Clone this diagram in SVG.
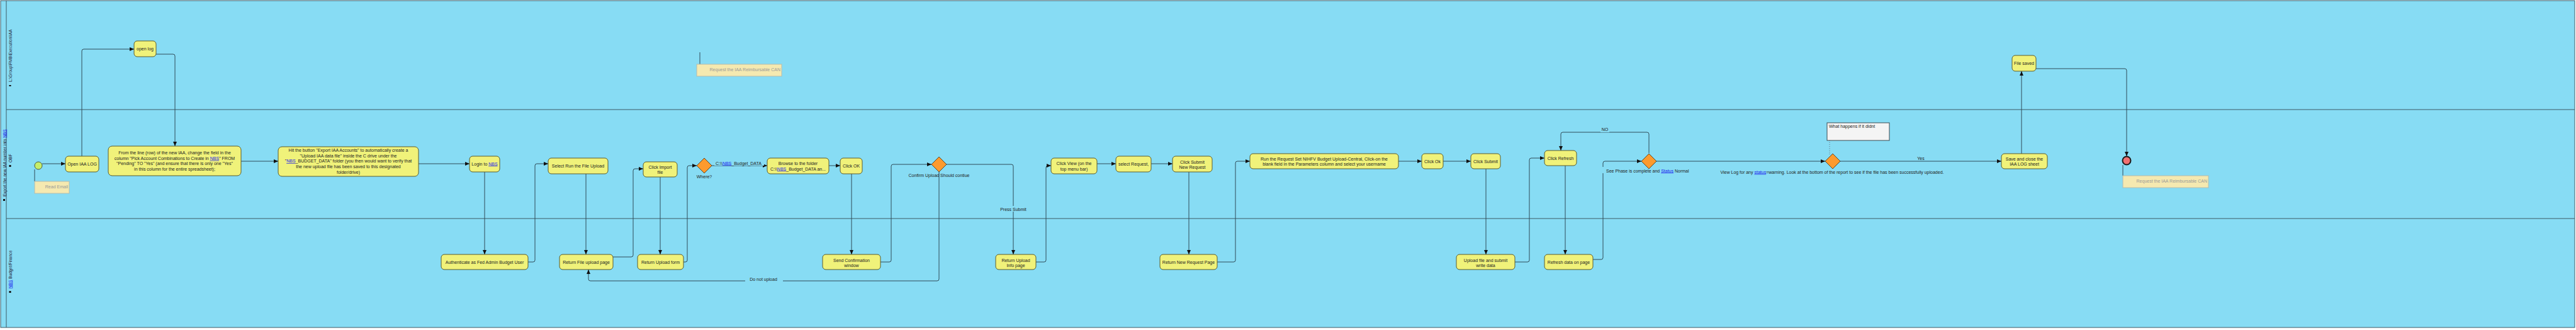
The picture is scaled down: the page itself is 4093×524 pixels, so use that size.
<svg xmlns="http://www.w3.org/2000/svg" width="4093" height="524" viewBox="0 0 4093 524">
<style>
.pool{fill:#87dcf4;stroke:#3d5a66;stroke-width:1}
.lane{stroke:#3d5a66;stroke-width:1}
.node rect{fill:#f0f27a;stroke:#5c5c2c;stroke-width:1}
.dia{fill:#fd9a2e;stroke:#5c4a2c;stroke-width:1}
.t{font-family:"Liberation Sans",Arial,sans-serif;font-size:7px;fill:#222}
.m{text-anchor:middle}
.lt{font-family:"Liberation Sans",Arial,sans-serif;font-size:6.5px;fill:#223}
.c{fill:none;stroke:#2f4b58;stroke-width:1}
.a{marker-end:url(#arr)}
.lnk{fill:#1a1aee;text-decoration:underline}
.bg{fill:#87dcf4}
.ann rect{fill:#f5e9b0;stroke:#b4bcae;stroke-width:1}
.ann text{font-family:"Liberation Sans",Arial,sans-serif;font-size:7px;fill:#999;text-anchor:end}
.annl{stroke:#2f4b58;stroke-width:1}
</style>
<defs>
<marker id="arr" markerUnits="userSpaceOnUse" markerWidth="7" markerHeight="6" refX="7" refY="3" orient="auto"><path d="M0,0 L7,3 L0,6 z" fill="#111"/></marker>
</defs>
<rect width="4093" height="524" fill="#ffffff"/>
<g id="pool">
<rect class="pool" x="1" y="1" width="4090" height="519"/>
<line class="lane" x1="10" y1="1" x2="10" y2="520"/>
<line class="lane" x1="10" y1="174" x2="4091" y2="174"/>
<line class="lane" x1="10" y1="347" x2="4091" y2="347"/>
<text class="lt" transform="translate(9.5,312) rotate(-90)">Export the new IAA number into <tspan class="lnk">NBS</tspan></text>
<rect x="5" y="316" width="3" height="3" fill="#111"/>
<text class="lt" transform="translate(18.5,130) rotate(-90)">L:\Group\FMB\Execution\IAA</text>
<rect x="14.5" y="135" width="3" height="2" fill="#111"/>
<text class="lt" transform="translate(18.5,258) rotate(-90)">OBF</text>
<rect x="14.5" y="262" width="3" height="3" fill="#111"/>
<text class="lt" transform="translate(18.5,458) rotate(-90)"><tspan class="lnk">NBS</tspan> Budget/Finance</text>
<rect x="14.5" y="462" width="3" height="3" fill="#111"/>
</g>
<g id="connectors">
<path class="c a" d="M67,260 H104"/>
<path class="c a" d="M130,248 V81 Q130,78 133,78 H213"/>
<path class="c a" d="M248,86 H275 Q278,86 278,89 V232"/>
<path class="c a" d="M383,256 H442"/>
<path class="c a" d="M665,260 H746"/>
<path class="c a" d="M770,273 V404"/>
<path class="c a" d="M839,416 H847 Q850,416 850,413 V263 Q850,260 853,260 H871"/>
<path class="c a" d="M931,276 V404"/>
<path class="c a" d="M974,408 H1003 Q1006,408 1006,405 V271 Q1006,268 1009,268 H1022"/>
<path class="c a" d="M1049,281 V404"/>
<path class="c a" d="M1086,416 H1089 Q1092,416 1092,413 V266 Q1092,263 1095,263 H1107"/>
<path class="c a" d="M1131,263 H1219"/>
<rect class="bg" x="1135" y="254" width="79" height="9"/>
<text class="t" x="1137" y="261.5">C:\\<tspan class="lnk">NBS</tspan>_Budget_DATA</text>
<path class="c a" d="M1317,263 H1335"/>
<path class="c a" d="M1353,276 V404"/>
<path class="c a" d="M1399,416 H1413 Q1416,416 1416,413 V264 Q1416,261 1419,261 H1480"/>
<path class="c a" d="M1492,273 V443 Q1492,446 1489,446 H938 Q935,446 935,443 V428"/>
<rect class="bg" x="1184" y="440" width="60" height="9"/>
<text class="t m" x="1213" y="445.5">Do not upload</text>
<path class="c a" d="M1504,261 H1607 Q1610,261 1610,264 V404"/>
<rect class="bg" x="1587" y="327" width="46" height="9"/>
<text class="t m" x="1610" y="334.5">Press Submit</text>
<path class="c a" d="M1646,416 H1659 Q1662,416 1662,413 V266 Q1662,263 1665,263 H1670"/>
<path class="c a" d="M1743,260 H1773"/>
<path class="c a" d="M1829,260 H1863"/>
<path class="c a" d="M1889,273 V404"/>
<path class="c a" d="M1934,416 H1960 Q1963,416 1963,413 V259 Q1963,256 1966,256 H1986"/>
<path class="c a" d="M2222,256 H2259"/>
<path class="c a" d="M2293,256 H2337"/>
<path class="c a" d="M2361,268 V404"/>
<path class="c a" d="M2407,416 H2427 Q2430,416 2430,413 V254 Q2430,251 2433,251 H2454"/>
<path class="c a" d="M2487,263 V404"/>
<path class="c a" d="M2531,412 H2544 Q2547,412 2547,409 V259 Q2547,256 2550,256 H2608"/>
<rect class="bg" x="2544" y="265" width="146" height="10"/>
<text class="t" x="2552" y="273.5">See Phase is complete and <tspan class="lnk">Status</tspan> Normal</text>
<path class="c a" d="M2620,243 V213 Q2620,210 2617,210 H2483 Q2480,210 2480,213 V239"/>
<rect class="bg" x="2543" y="202" width="14" height="8"/>
<text class="t m" x="2550" y="208">NO</text>
<path class="c a" d="M2632,256 H2900"/>
<text class="t m" x="2911" y="275.5">View Log for any <tspan class="lnk">status</tspan>=warning.  Look at the bottom of the report to see if the file has been successfully uploaded.</text>
<path class="c a" d="M2924,256 H3180"/>
<text class="t m" x="3052" y="253.5">Yes</text>
<path class="c a" d="M3212,244 V113"/>
<path class="c a" d="M3235,109 H3376 Q3379,109 3379,112 V248"/>
<line class="annl" x1="55" y1="269" x2="55" y2="288"/>
<line class="annl" x1="1112" y1="83" x2="1112" y2="102"/>
<line class="annl" x1="3373" y1="262" x2="3373" y2="279"/>
<line x1="2907" y1="223" x2="2907" y2="245" stroke="#556" stroke-width="0.8" stroke-dasharray="1,2"/>
</g>
<g id="start"><circle cx="61" cy="263" r="6" fill="#c5ee6a" stroke="#4a5a3a" stroke-width="1"/></g>
<g id="end"><circle cx="3379" cy="255" r="6.5" fill="#f07070" stroke="#1a1a1a" stroke-width="2"/></g>
<g id="ann_read" class="ann"><rect x="55" y="288" width="55" height="19"/><text x="108" y="298.5">Read Email</text></g>
<g id="ann_req1" class="ann"><rect x="1107" y="102" width="135" height="19"/><text x="1240" y="112.5">Request the IAA Reimbursable CAN</text></g>
<g id="ann_req2" class="ann"><rect x="3373" y="279" width="136" height="19"/><text x="3507" y="289.5">Request the IAA Reimbursable CAN</text></g>
<g id="note_what"><rect x="2903" y="195" width="99" height="28" fill="#f4f4f4" stroke="#3d4a50" stroke-width="1"/><text class="t" x="2906" y="203">What happens if it didnt</text></g>
<g id="n_openiaa" class="node"><rect x="104" y="248" width="53" height="25" rx="5"/><text class="t m" x="130.5" y="262.5">Open IAA LOG</text></g>
<g id="n_openlog" class="node"><rect x="213" y="65" width="35" height="25" rx="5"/><text class="t m" x="230.5" y="80">open log</text></g>
<g id="n_from" class="node"><rect x="172" y="232" width="211" height="47" rx="6"/>
<text class="t m" x="277.5" y="245">From the line (row) of the new IAA, change the field in the</text>
<text class="t m" x="277.5" y="253.7">column "Pick Account Combinations to Create in <tspan class="lnk">NBS</tspan>" FROM</text>
<text class="t m" x="277.5" y="262.4">"Pending" TO "Yes" (and ensure that there is only one "Yes"</text>
<text class="t m" x="277.5" y="271.1">in this column for the entire spreadsheet);</text></g>
<g id="n_hit" class="node"><rect x="442" y="233" width="223" height="47" rx="6"/>
<text class="t m" x="553.5" y="240.8">Hit the button "Export IAA Accounts" to automatically create a</text>
<text class="t m" x="553.5" y="249.5">"Upload IAA data file" inside the C drive under the</text>
<text class="t m" x="553.5" y="258.2">"<tspan class="lnk">NBS</tspan>_BUDGET_DATA" folder (you then would want to verify that</text>
<text class="t m" x="553.5" y="266.9">the new upload file has been saved to this designated</text>
<text class="t m" x="553.5" y="275.6">folder/drive)</text></g>
<g id="n_login" class="node"><rect x="746" y="248" width="48" height="25" rx="5"/><text class="t m" x="770" y="262.5">Login to <tspan class="lnk">NBS</tspan></text></g>
<g id="n_auth" class="node"><rect x="701" y="404" width="138" height="24" rx="5"/><text class="t m" x="770" y="418.5">Authenticate as Fed Admin Budget User</text></g>
<g id="n_select" class="node"><rect x="871" y="251" width="95" height="25" rx="5"/><text class="t m" x="918.5" y="265.5">Select Run the File Upload</text></g>
<g id="n_retfile" class="node"><rect x="889" y="404" width="85" height="24" rx="5"/><text class="t m" x="931.5" y="418.5">Return File upload page</text></g>
<g id="n_import" class="node"><rect x="1022" y="257" width="54" height="24" rx="5"/><text class="t m" x="1049" y="267.5">Click Import</text><text class="t m" x="1049" y="275.5">file</text></g>
<g id="n_retform" class="node"><rect x="1013" y="404" width="73" height="24" rx="5"/><text class="t m" x="1049.5" y="418.5">Return Upload form</text></g>
<g id="d_where"><polygon class="dia" points="1107,263 1119,251 1131,263 1119,275"/><text class="t m" x="1119" y="282.5">Where?</text></g>
<g id="n_browse" class="node"><rect x="1219" y="251" width="98" height="25" rx="5"/><text class="t m" x="1268" y="261.5">Browse to the folder</text><text class="t m" x="1268" y="270.5">C:\\<tspan class="lnk">NBS</tspan>_Budget_DATA an...</text></g>
<g id="n_ok" class="node"><rect x="1335" y="251" width="35" height="25" rx="5"/><text class="t m" x="1352.5" y="265.5">Click  OK</text></g>
<g id="n_sendconf" class="node"><rect x="1307" y="404" width="92" height="24" rx="5"/><text class="t m" x="1353" y="415.5">Send Confirmation</text><text class="t m" x="1353" y="423.5">window</text></g>
<g id="d_confirm"><polygon class="dia" points="1480,261 1492,249 1504,261 1492,273"/><text class="t m" x="1492" y="280.5">Confirm Upload Should contiue</text></g>
<g id="n_retinfo" class="node"><rect x="1582" y="404" width="64" height="24" rx="5"/><text class="t m" x="1614" y="415.5">Return Upload</text><text class="t m" x="1614" y="423.5">Info page</text></g>
<g id="n_view" class="node"><rect x="1670" y="251" width="73" height="25" rx="5"/><text class="t m" x="1706.5" y="261.5">Click View (on the</text><text class="t m" x="1706.5" y="270.5">top menu bar)</text></g>
<g id="n_selreq" class="node"><rect x="1773" y="248" width="56" height="25" rx="5"/><text class="t m" x="1801" y="263">select Request,</text></g>
<g id="n_clicksubnew" class="node"><rect x="1863" y="248" width="63" height="25" rx="5"/><text class="t m" x="1894.5" y="259.5">Click Submit</text><text class="t m" x="1894.5" y="267.5">New Request</text></g>
<g id="n_retnew" class="node"><rect x="1843" y="404" width="91" height="24" rx="5"/><text class="t m" x="1888.5" y="418.5">Return New Request Page</text></g>
<g id="n_run" class="node"><rect x="1986" y="244" width="236" height="24" rx="5"/><text class="t m" x="2104" y="254.5">Run the Request Set NIHFV Budget Upload-Central, Click-on the</text><text class="t m" x="2104" y="262.5">blank field in the Parameters column and select your username</text></g>
<g id="n_clickok" class="node"><rect x="2259" y="244" width="34" height="24" rx="5"/><text class="t m" x="2276" y="258.5">Click Ok</text></g>
<g id="n_clicksubmit" class="node"><rect x="2337" y="244" width="47" height="24" rx="5"/><text class="t m" x="2360.5" y="258.5">Click Submit</text></g>
<g id="n_upload" class="node"><rect x="2314" y="404" width="93" height="24" rx="5"/><text class="t m" x="2360.5" y="415.5">Upload file  and submit</text><text class="t m" x="2360.5" y="423.5">write data</text></g>
<g id="n_refresh" class="node"><rect x="2454" y="239" width="51" height="24" rx="5"/><text class="t m" x="2479.5" y="253.5">Click Refresh</text></g>
<g id="n_refdata" class="node"><rect x="2454" y="404" width="77" height="24" rx="5"/><text class="t m" x="2492.5" y="418.5">Refresh data on page</text></g>
<g id="d_phase"><polygon class="dia" points="2608,256 2620,244 2632,256 2620,268"/></g>
<g id="d_log"><polygon class="dia" points="2900,256 2912,244 2924,256 2912,268"/></g>
<g id="n_save" class="node"><rect x="3180" y="244" width="73" height="24" rx="5"/><text class="t m" x="3216.5" y="254.5">Save and close the</text><text class="t m" x="3216.5" y="262.5">IAA LOG sheet</text></g>
<g id="n_filesaved" class="node"><rect x="3197" y="88" width="38" height="25" rx="5"/><text class="t m" x="3216" y="102.5">File saved</text></g>
</svg>
